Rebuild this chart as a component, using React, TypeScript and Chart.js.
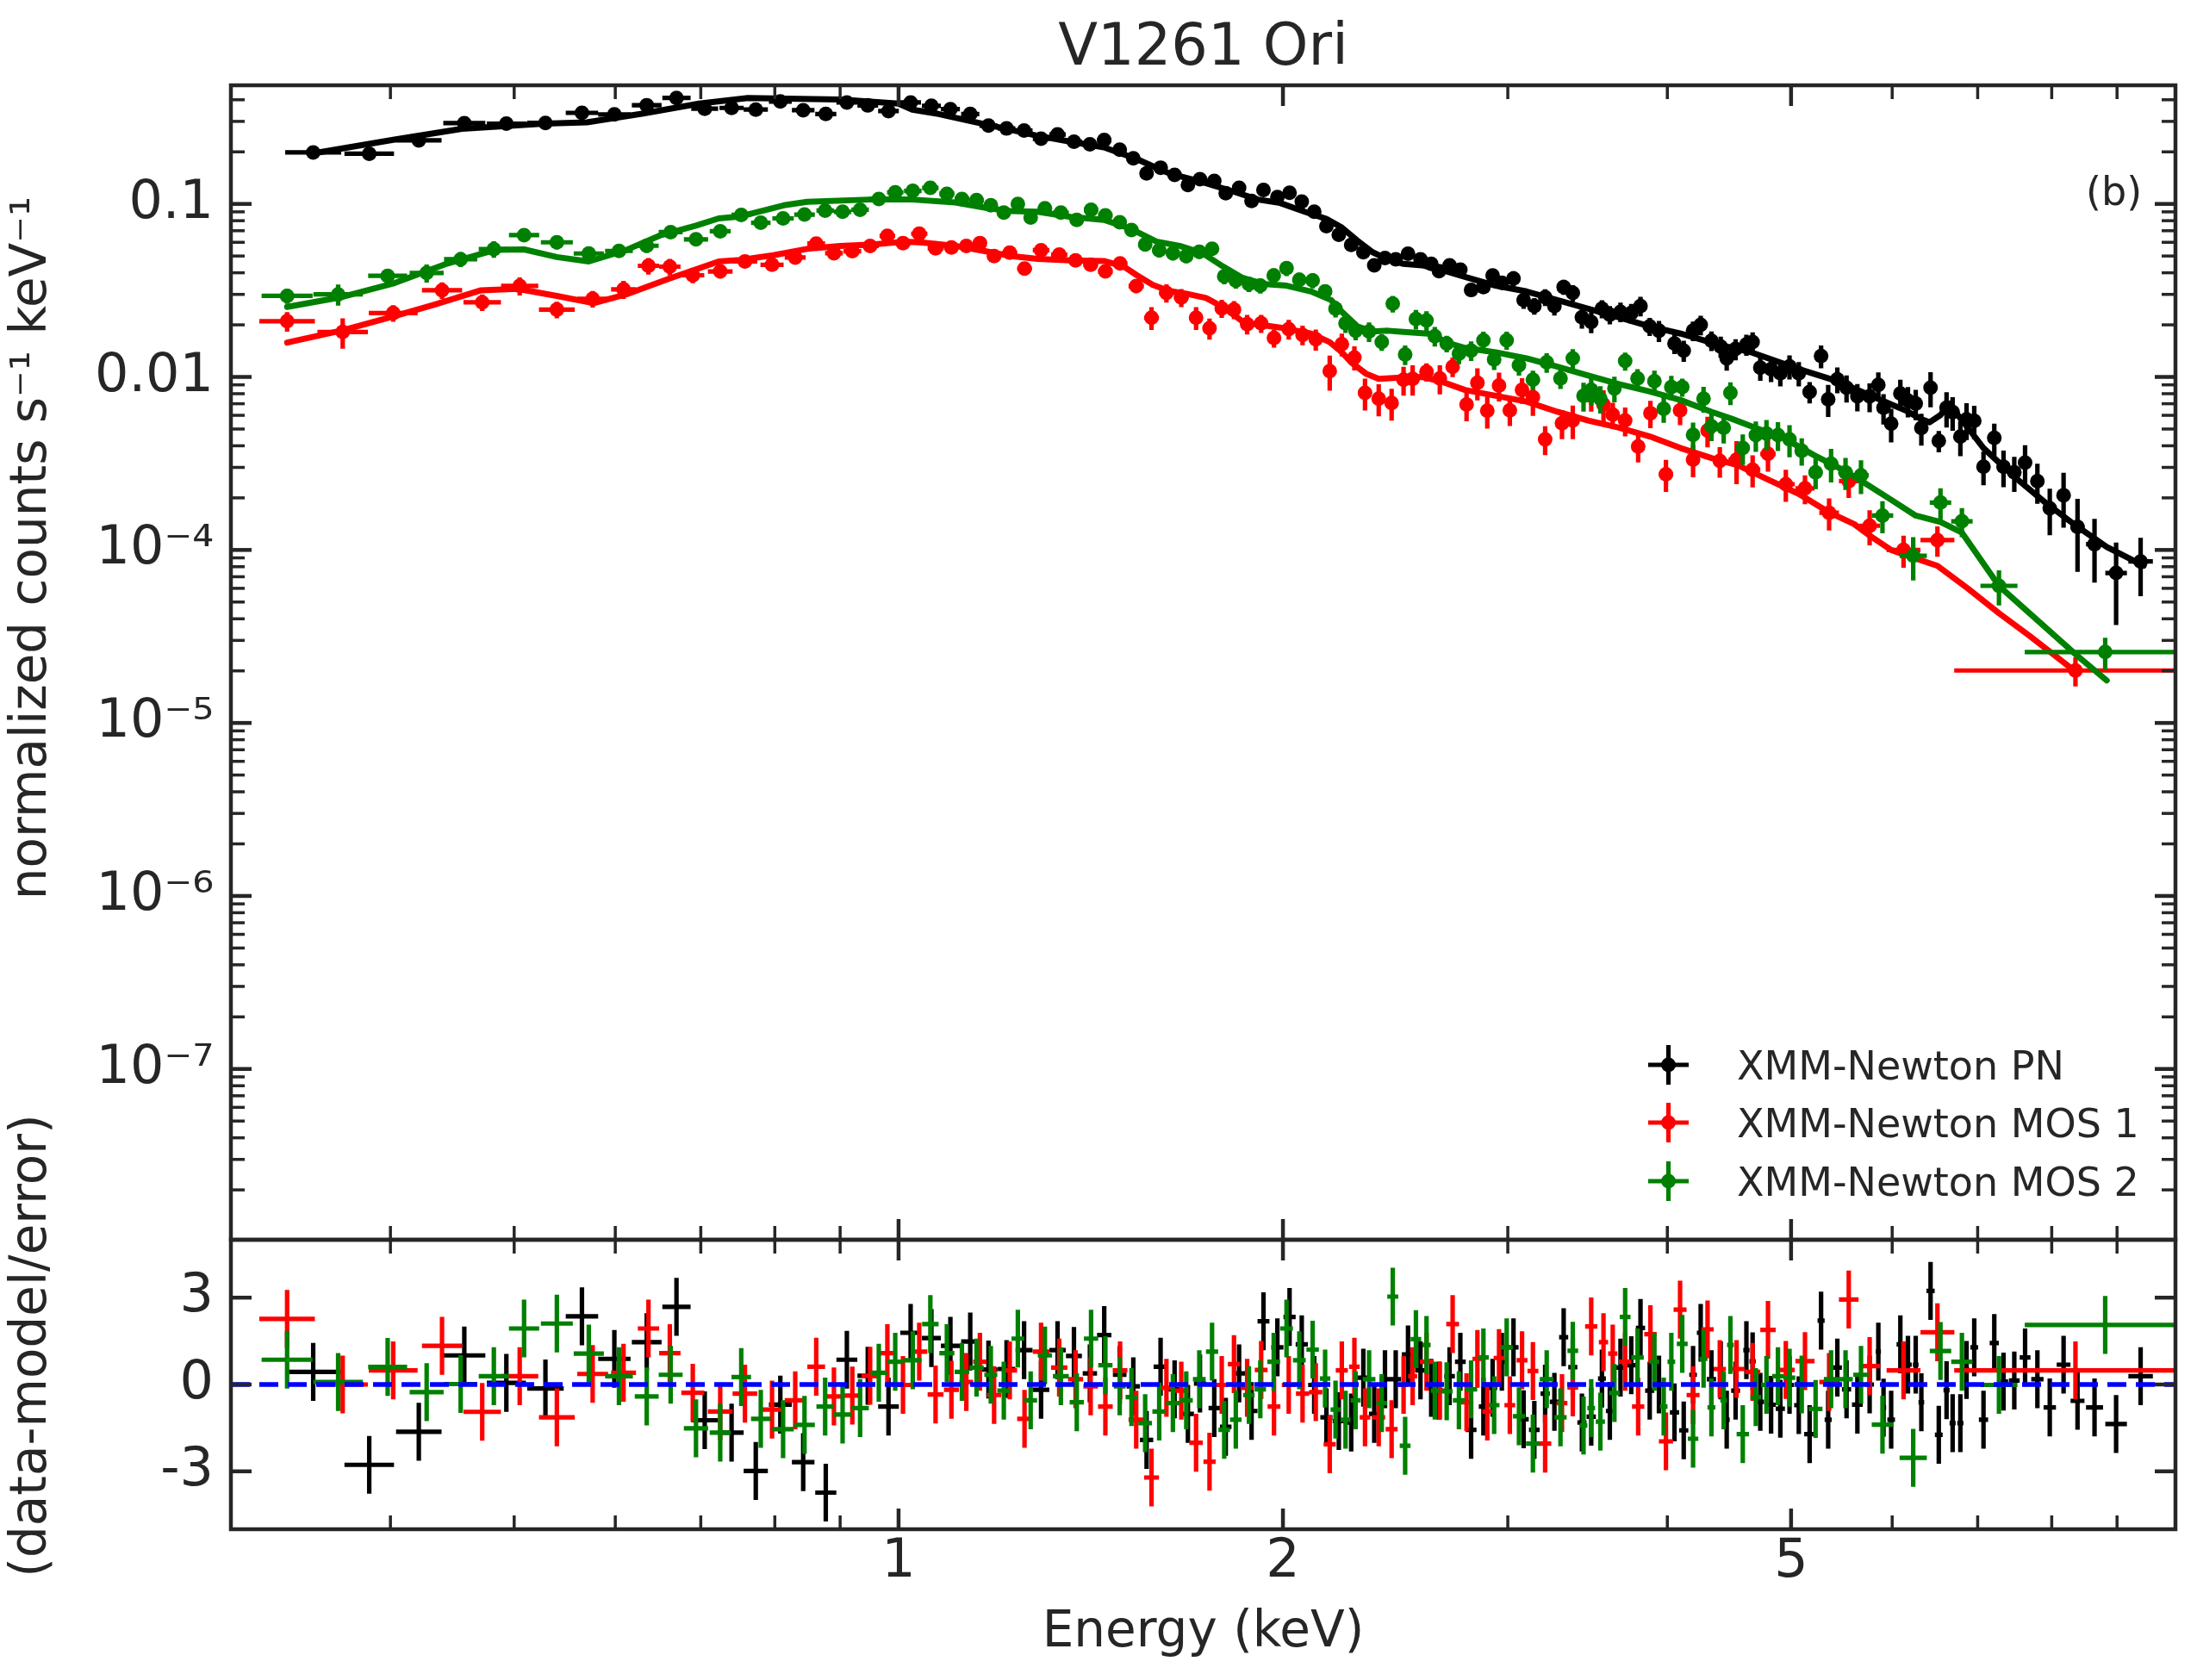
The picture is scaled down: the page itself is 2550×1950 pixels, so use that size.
import React, { useEffect, useRef } from "react";
import { Chart, registerables } from "chart.js";
Chart.register(...registerables);

const W = 2550;
const H = 1950;
const FAM = "'DejaVu Sans', sans-serif";
const TXT = "#262626";
const C_PN = "#000000";
const C_M1 = "#ff0000";
const C_M2 = "#008000";

// ---------------- data (energies in keV) ----------------
const pnE = [0.348,0.385,0.421,0.457,0.493,0.529,0.565,0.599,0.635,0.670,0.705,0.740,
0.773,0.808,0.842,0.877,0.911,0.946,0.982,1.022,1.061,1.098,1.138,1.176,1.215,1.254,1.293,1.332,1.372,1.412,1.449,1.490,1.527,1.564,1.604,1.645,1.685,1.722,1.767,1.804,1.848,1.890,
1.931,1.980,2.024,2.069,2.116,2.163,2.212,2.262,2.312,2.358,2.404,2.451,2.506,2.563,2.613,2.650,2.701,2.754,2.808,2.871,2.919,2.968,3.031,3.087,3.147,3.209,3.263,3.318,3.373,3.429,3.487,3.555,3.606,3.676,3.748,3.811,3.875,3.940,4.052,4.120,4.190,4.248,4.331,4.404,4.452,
4.524,4.613,4.665,4.730,4.823,4.904,4.986,5.070,5.170,5.278,5.346,5.435,5.526,5.635,5.761,5.852,5.907,5.989,6.089,6.173,6.260,6.324,6.430,6.526,6.618,6.691,6.785,6.861,6.957,7.074,7.213,7.334,7.478,7.625,7.796,7.972,8.173,8.381,8.642,8.985,9.391];
const pnV = [0.1985,0.195,0.233,0.293,0.291,0.294,0.336,0.329,0.372,0.410,0.355,0.359,
0.351,0.391,0.348,0.331,0.386,0.371,0.344,0.386,0.369,0.353,0.331,0.2835,0.273,0.2655,0.238,0.252,0.229,0.221,0.234,0.206,0.1834,0.150,0.162,0.147,0.1285,0.139,0.136,0.1154,0.1238,0.104,
0.1205,0.1095,0.116,0.1032,0.0902,0.0744,0.0663,0.0579,0.0526,0.0442,0.0487,0.0478,0.0516,0.0478,0.0450,0.0409,0.0442,0.0417,0.0318,0.0331,0.0386,0.0350,0.0371,0.0278,0.0257,0.0289,0.0257,0.0331,0.0306,0.0221,0.0208,0.0248,0.0229,0.0238,0.0234,0.0257,0.0196,0.0185,0.0156,0.0142,0.0185,0.0200,0.0162,0.0150,0.0128,
0.0145,0.0154,0.0159,0.0113,0.0111,0.0105,0.0115,0.0105,0.00818,0.0132,0.00743,0.0097,0.00866,0.00772,0.00772,0.00899,0.00663,0.00537,0.00802,0.00729,0.00702,0.00507,0.00866,0.00427,0.00663,0.00626,0.00452,0.00568,0.00558,0.00303,0.00444,0.00303,0.00281,0.00320,0.00250,0.00174,0.00207,0.00136,0.00108,0.000736,0.000858];
const pnErr = [0.03,0.035,0.03,0.03,0.03,0.03,0.03,0.03,0.03,0.03,0.03,0.03,
0.03,0.03,0.03,0.03,0.03,0.03,0.03,0.03,0.03,0.03,0.03,0.03,0.03,0.03,0.03,0.03,0.03,0.03,0.03,0.03,0.04,0.04,0.04,0.04,0.04,0.04,0.04,0.04,0.04,0.04,
0.06,0.06,0.06,0.06,0.06,0.06,0.06,0.06,0.06,0.06,0.06,0.06,0.08,0.08,0.08,0.08,0.08,0.08,0.08,0.08,0.08,0.08,0.1,0.11,0.11,0.11,0.12,0.1,0.11,0.14,0.14,0.12,0.12,0.13,0.13,0.13,0.12,0.14,0.13,0.14,0.13,0.13,0.13,0.14,0.15,
0.14,0.14,0.14,0.16,0.16,0.16,0.16,0.16,0.14,0.15,0.21,0.17,0.18,0.18,0.19,0.18,0.2,0.22,0.2,0.2,0.2,0.21,0.23,0.14,0.23,0.22,0.23,0.24,0.22,0.22,0.21,0.24,0.23,0.26,0.26,0.3,0.35,0.45,0.4,0.5,0.37];
const pnRes = [0.435,-2.775,-1.635,1.005,0.055,-0.135,2.355,0.885,1.465,2.685,-1.235,-1.665,
-2.985,-0.695,-2.685,-3.735,0.855,0.3,-0.765,1.785,1.605,1.335,1.485,0.515,0.535,1.185,-0.185,1.185,0.985,0.385,1.705,0.335,-0.065,-1.915,0.615,-0.165,-1.015,0.035,-0.815,-1.465,0.385,-0.915,
2.185,1.285,2.335,1.385,-0.015,-1.135,-1.265,-1.315,0.235,-1.015,0.185,0.185,1.035,0.485,-0.115,-0.215,0.285,0.785,-1.565,-0.765,-0.115,0.785,1.285,-1.2,-1.565,-0.315,-0.6,1.635,0.6,-1.315,-1.115,0.205,-0.915,0.585,0.665,1.955,-0.215,0.0,-0.965,-1.585,0.335,1.785,0.185,0.485,-1.215,
-0.215,1.185,0.8,-0.6,-0.7,-0.835,-0.015,-0.715,-1.715,2.205,-1.215,0.585,-0.165,-0.695,0.0,1.135,-0.8,-1.215,1.385,0.685,0.685,-0.615,3.235,-1.735,-0.2,-1.335,-1.335,0.5,1.285,-1.215,1.435,0.1,0.135,0.935,0.185,-0.795,0.685,-0.565,-0.795,-1.365,0.285];

const mos1E = [0.332,0.367,0.402,0.439,0.472,0.505,0.540,0.576,0.609,0.637,0.662,0.690,0.725,0.758,
0.796,0.830,0.862,0.890,0.920,0.950,0.980,1.008,1.038,1.069,1.100,1.130,1.158,1.188,1.222,1.255,1.293,1.336,1.376,1.414,1.452,1.491,1.535,1.578,1.621,1.665,1.710,1.752,1.791,1.831,1.875,
1.923,1.968,2.021,2.072,2.122,2.176,2.224,2.275,2.319,2.377,2.433,2.486,2.527,2.591,2.654,2.716,2.785,2.840,2.891,2.953,3.011,3.078,3.139,3.209,3.308,3.373,3.487,3.565,3.625,3.707,3.795,3.880,3.990,4.093,4.190,4.301,4.397,
4.532,4.665,4.796,4.953,5.127,5.355,5.548,5.761,6.124,6.51,8.35];
const mos1V = [0.0210,0.0182,0.0234,0.0317,0.0270,0.0336,0.0245,0.0283,0.0321,0.0439,0.0434,0.0387,0.0407,0.0465,
0.0445,0.0490,0.0590,0.0519,0.0533,0.0572,0.0654,0.0594,0.0673,0.0554,0.0560,0.0572,0.0594,0.0499,0.0523,0.0423,0.0540,0.0509,0.0472,0.0445,0.0407,0.0453,0.0335,0.0220,0.0306,0.0288,0.0220,0.0191,0.0249,0.0245,0.0202,
0.0204,0.0168,0.0189,0.0175,0.0165,0.0108,0.01547,0.01296,0.00809,0.00749,0.00707,0.00963,0.00974,0.0107,0.0098,0.01145,0.00693,0.00926,0.00637,0.00891,0.00642,0.00841,0.00764,0.00436,0.0054,0.0056,0.00778,0.00693,0.00606,0.0056,0.00396,0.00617,0.00274,0.00642,0.00333,0.0049,0.00327,
0.00333,0.00291,0.00359,0.0024,0.00227,0.00164,0.0025,0.00138,0.0010,0.00114,0.000201];
const mos1Err = [0.13,0.2,0.11,0.11,0.11,0.12,0.11,0.11,0.12,0.11,0.11,0.1,0.09,0.08,
0.07,0.07,0.07,0.07,0.07,0.07,0.07,0.07,0.07,0.07,0.07,0.07,0.07,0.07,0.07,0.09,0.07,0.07,0.08,0.08,0.08,0.08,0.09,0.15,0.12,0.12,0.15,0.14,0.12,0.12,0.13,
0.12,0.12,0.13,0.13,0.14,0.23,0.15,0.16,0.21,0.21,0.21,0.19,0.2,0.12,0.19,0.13,0.2,0.21,0.21,0.19,0.19,0.17,0.22,0.19,0.19,0.22,0.19,0.21,0.17,0.19,0.19,0.18,0.21,0.18,0.21,0.2,0.2,
0.28,0.21,0.21,0.21,0.19,0.21,0.2,0.23,0.21,0.2,0.19];
const mos1Res = [2.265,0.0,0.485,1.335,-0.945,0.285,-1.135,0.365,0.405,1.935,1.085,-0.285,-0.935,-0.315,
-0.865,-0.545,0.615,-0.415,-0.385,0.3,1.085,-0.015,1.135,-0.345,-0.185,0.085,0.785,-0.365,0.485,-1.185,1.135,0.585,0.185,-0.065,-0.765,0.485,-1.215,-3.215,-0.115,-0.215,-2.015,-2.665,-0.015,0.705,-0.115,
0.505,-0.765,-0.015,-0.315,-0.265,-2.065,0.485,0.615,-1.135,-1.135,-1.545,-0.015,0.285,0.785,-0.215,2.085,-0.615,0.885,-0.935,0.915,-0.715,0.835,0.465,-2.045,-0.645,-0.1,2.005,1.465,1.065,0.785,-0.765,1.735,-1.965,2.585,-0.365,1.905,0.535,
0.535,0.435,1.885,0.505,0.805,0.085,2.935,0.635,0.485,1.805,0.485];
const mos1LastBin = [6.71, 9.98];

const mos2E = [0.332,0.364,0.398,0.427,0.454,0.482,0.509,0.540,0.572,0.604,0.635,0.663,0.694,0.725,0.753,
0.780,0.812,0.844,0.876,0.904,0.933,0.965,0.994,1.026,1.059,1.091,1.121,1.151,1.181,1.209,1.240,1.269,1.302,1.340,1.379,1.415,1.452,1.490,1.522,1.560,1.600,1.640,1.680,1.720,1.760,1.799,1.837,1.881,
1.920,1.967,2.013,2.060,2.110,2.158,2.199,2.239,2.280,2.336,2.390,2.438,2.493,2.542,2.591,2.630,2.687,2.747,2.808,2.871,2.927,2.994,3.061,3.139,3.218,3.299,3.373,3.439,3.487,3.545,3.636,3.707,3.791,3.908,3.974,4.029,4.109,4.190,4.270,4.331,4.428,4.482,
4.583,4.692,4.783,4.883,4.986,5.097,5.226,5.374,5.516,5.672,5.896,6.232,6.546,6.804,7.274,8.81];
const mos2V = [0.0294,0.0300,0.0384,0.0399,0.0479,0.0548,0.0660,0.0600,0.0517,0.0535,0.0573,0.0687,0.0624,0.0695,0.0864,
0.0778,0.0825,0.0868,0.0915,0.0901,0.0926,0.1069,0.1167,0.1190,0.1238,0.1145,0.1069,0.1052,0.0982,0.0891,0.1000,0.0835,0.0944,0.0891,0.0809,0.0926,0.0858,0.0784,0.0707,0.0583,0.0540,0.0519,0.0499,0.0529,0.0550,0.0381,0.0360,0.0344,
0.0337,0.0386,0.0425,0.0364,0.0361,0.0312,0.0248,0.0204,0.0185,0.0183,0.0159,0.0265,0.01347,0.0216,0.0212,0.0172,0.0156,0.01363,0.0142,0.0163,0.0126,0.0163,0.01168,0.00963,0.01214,0.0098,0.0128,0.00778,0.00841,0.00749,0.00858,0.01236,0.0098,0.00944,0.00654,0.00874,0.00874,0.00462,0.00749,0.00519,0.00509,0.00809,
0.00388,0.00461,0.0047,0.00461,0.00435,0.00374,0.00281,0.00315,0.00281,0.0027,0.00158,0.000926,0.00188,0.001465,0.00062,0.000257];
const mos2Err = [0.1,0.14,0.09,0.12,0.1,0.11,0.07,0.09,0.08,0.08,0.09,0.08,0.09,0.08,0.07,
0.07,0.07,0.07,0.07,0.07,0.07,0.07,0.07,0.07,0.07,0.07,0.07,0.07,0.07,0.07,0.07,0.07,0.07,0.07,0.07,0.07,0.07,0.07,0.08,0.09,0.09,0.09,0.09,0.09,0.09,0.1,0.1,0.1,
0.1,0.1,0.1,0.1,0.1,0.1,0.11,0.12,0.12,0.13,0.11,0.11,0.13,0.13,0.13,0.13,0.11,0.13,0.13,0.12,0.13,0.12,0.13,0.13,0.13,0.13,0.13,0.19,0.18,0.18,0.17,0.12,0.13,0.15,0.17,0.16,0.12,0.18,0.17,0.18,0.19,0.15,
0.2,0.2,0.2,0.19,0.21,0.18,0.2,0.22,0.21,0.22,0.21,0.28,0.21,0.19,0.23,0.21];
const mos2Res = [0.855,0.085,0.605,-0.265,0.015,0.285,1.935,2.105,1.065,0.285,-0.415,0.335,-1.515,-1.665,0.255,
-1.185,-1.545,-1.395,-0.765,-1.035,-0.815,0.405,0.785,0.835,2.085,1.085,0.435,0.585,0.335,-0.215,1.585,-0.545,1.005,0.285,-0.615,1.585,0.665,-0.065,-0.435,-1.335,-0.935,-0.645,-0.545,0.185,1.135,-1.565,-1.215,-0.365,
-0.165,0.785,1.935,0.835,1.205,0.205,-0.865,-1.215,-0.545,0.185,-0.645,3.035,-2.115,1.565,1.365,-0.215,-0.235,-0.545,-0.165,0.935,-0.715,1.285,-1.095,-2.045,0.185,-1.135,1.165,-1.415,-0.815,-1.285,-0.295,2.335,0.935,0.785,-0.765,0.785,1.405,-1.875,0.885,-0.795,-0.545,1.365,
-1.715,-0.435,-0.015,0.285,0.235,0.0,-0.845,0.185,0.185,0.335,-1.385,-2.535,1.155,0.785,-0.015,2.055];
const mos2LastBin = [7.62, 9.98];

// ---------------- model curves ----------------
const pnModelE = [0.348,0.403,0.455,0.528,0.570,0.631,0.698,0.762,0.900,1.000,1.025,1.075,1.141,1.211,1.285,1.364,1.448,1.536,1.582,1.630,1.730,1.837,1.912,1.990,2.080,2.163,2.224,2.287,2.351,2.417,2.486,2.570,2.657,2.777,2.935,3.103,3.281,3.468,3.666,3.875,4.097,4.331,4.498,4.665,5.070,5.420,5.825,6.156,6.330,6.419,6.546,6.658,6.767,6.920,7.074,7.478,7.907,8.358,8.835,9.443];
const pnModelV = [0.196,0.2355,0.2716,0.291,0.296,0.333,0.380,0.410,0.401,0.380,0.351,0.331,0.300,0.273,0.2477,0.229,0.2125,0.182,0.165,0.150,0.1337,0.1167,0.106,0.1013,0.0902,0.0819,0.0730,0.0614,0.0526,0.0478,0.045,0.0442,0.0417,0.0379,0.0337,0.0312,0.0278,0.0248,0.0221,0.0196,0.0178,0.0158,0.0147,0.0138,0.0111,0.00952,0.00757,0.00637,0.00568,0.00547,0.00602,0.00702,0.00591,0.00479,0.00388,0.00265,0.00188,0.00138,0.00104,0.00081];
const mos1ModelE = [0.332,0.367,0.403,0.433,0.471,0.503,0.540,0.577,0.612,0.661,0.723,0.752,0.798,0.848,0.900,0.955,1.013,1.044,1.108,1.176,1.226,1.285,1.364,1.448,1.500,1.536,1.582,1.630,1.680,1.741,1.794,1.859,1.883,1.990,2.104,2.176,2.224,2.262,2.325,2.377,2.458,2.570,2.657,2.777,2.935,3.103,3.281,3.468,3.666,3.875,4.097,4.331,4.54,4.796,5.070,5.362,5.603,5.761,5.989,6.260,6.51,6.880,7.274,7.690,8.358];
const mos1ModelV = [0.0158,0.0186,0.0225,0.0262,0.0317,0.0323,0.0294,0.0267,0.0300,0.0370,0.0465,0.0475,0.0505,0.0550,0.0572,0.0583,0.0606,0.0599,0.0572,0.0529,0.0499,0.0481,0.0472,0.0468,0.0436,0.0388,0.0340,0.0314,0.0303,0.0286,0.0254,0.0210,0.0204,0.0193,0.0178,0.0159,0.01388,0.01214,0.0104,0.00974,0.00989,0.0100,0.00944,0.00841,0.00778,0.0072,0.00629,0.0056,0.00509,0.00453,0.00388,0.0034,0.00309,0.00255,0.00211,0.00164,0.00141,0.00121,0.0010,0.000892,0.00081,0.000597,0.000431,0.000318,0.000197];
const mos2ModelE = [0.332,0.365,0.403,0.441,0.483,0.509,0.540,0.572,0.612,0.650,0.694,0.723,0.752,0.813,0.848,0.949,1.025,1.108,1.176,1.226,1.285,1.364,1.448,1.518,1.592,1.660,1.730,1.794,1.859,1.883,1.936,2.013,2.104,2.182,2.224,2.287,2.351,2.417,2.486,2.598,2.701,2.777,2.935,3.103,3.281,3.468,3.666,3.875,4.097,4.331,4.498,4.692,4.932,5.212,5.510,5.729,5.989,6.260,6.546,6.804,7.274,8.358,8.835];
const mos2ModelV = [0.0254,0.0288,0.0349,0.0447,0.0542,0.0546,0.0493,0.0465,0.0542,0.0656,0.0749,0.0825,0.0847,0.0982,0.1028,0.1060,0.1060,0.1020,0.0944,0.0908,0.0901,0.0841,0.0809,0.0721,0.0606,0.0572,0.0519,0.0436,0.0374,0.0364,0.0344,0.0337,0.0312,0.0278,0.0238,0.0196,0.0183,0.0185,0.0182,0.0178,0.0156,0.01472,0.01388,0.0128,0.01145,0.0102,0.00908,0.00825,0.00735,0.00629,0.00571,0.00507,0.00444,0.00353,0.00286,0.0024,0.00195,0.00158,0.00145,0.00126,0.00062,0.000248,0.000176];

// ---------------- axes / text ----------------
const X_MIN = 0.3;
const X_MAX = 10;
const Y_MIN = 1.03e-7;
const Y_MAX = 0.485;
const R_MIN = -5;
const R_MAX = 5;
const xMajorTicks = [1, 2, 5];
const xMinorTicks = [0.4, 0.5, 0.6, 0.7, 0.8, 0.9, 3, 4, 6, 7, 8, 9];
const yTickValues = [0.1, 0.01, 1e-3, 1e-4, 1e-5, 1e-6];
const yTickLabels = ["0.1", "0.01", "10\u207B\u2074", "10\u207B\u2075", "10\u207B\u2076", "10\u207B\u2077"];
const resTickValues = [-3, 0, 3];
const seriesNames = ["XMM-Newton PN", "XMM-Newton MOS 1", "XMM-Newton MOS 2"];
const seriesColors = [C_PN, C_M1, C_M2];
const titleText = "V1261 Ori";
const panelTag = "(b)";
const yLabelTop = "normalized counts s\u207B\u00B9 keV\u207B\u00B9";
const yLabelBottom = "(data-model/error)";
const xLabelText = "Energy (keV)";

// ---------------- layout (pixels) ----------------
const AREA_LEFT = 268;
const AREA_RIGHT = 2525;
const TOP_TOP = 99;
const SPLIT = 1439;
const BOT_BOTTOM = 1775;
const MAJ = 24, MIN = 16, MAJW = 4.5, MINW = 3.5, SPINE = 4.5;
const EBW = 5.2;

function binEdges(E, last) {
  const L = E.map((e) => Math.log10(e));
  return E.map((e, i) => {
    if (last && i === E.length - 1) return last;
    const gl = i > 0 ? L[i] - L[i - 1] : Infinity;
    const gr = i < E.length - 1 ? L[i + 1] - L[i] : Infinity;
    const h = Math.min(gl, gr) / 2;
    return [Math.pow(10, L[i] - h), Math.pow(10, L[i] + h)];
  });
}
function dataBars(E, V, F, last) {
  const b = binEdges(E, last);
  return { x: E, y: V, xlo: b.map((q) => q[0]), xhi: b.map((q) => q[1]),
    ylo: V.map((v, i) => v * (1 - F[i])), yhi: V.map((v, i) => v * (1 + F[i])) };
}
function resBars(E, R, last) {
  const b = binEdges(E, last);
  return { x: E, y: R, xlo: b.map((q) => q[0]), xhi: b.map((q) => q[1]),
    ylo: R.map((r) => r - 1), yhi: R.map((r) => r + 1) };
}
const pts = (E, V) => E.map((e, i) => ({ x: e, y: V[i] }));

const errPlugin = {
  id: "errbars",
  beforeDatasetDraw(chart, args) {
    const ds = chart.data.datasets[args.index];
    const eb = ds.eb;
    if (!eb) return;
    const ctx = chart.ctx;
    const a = chart.chartArea;
    const xs = chart.scales.x, ys = chart.scales.y;
    ctx.save();
    ctx.beginPath();
    ctx.rect(a.left, a.top, a.right - a.left, a.bottom - a.top);
    ctx.clip();
    ctx.strokeStyle = ds.ebColor;
    ctx.lineWidth = EBW;
    ctx.lineCap = "butt";
    ctx.beginPath();
    for (let i = 0; i < eb.x.length; i++) {
      if (eb.y[i] === undefined) continue;
      const px = xs.getPixelForValue(eb.x[i]);
      const py = ys.getPixelForValue(eb.y[i]);
      ctx.moveTo(xs.getPixelForValue(eb.xlo[i]), py);
      ctx.lineTo(xs.getPixelForValue(eb.xhi[i]), py);
      ctx.moveTo(px, ys.getPixelForValue(eb.ylo[i]));
      ctx.lineTo(px, ys.getPixelForValue(eb.yhi[i]));
    }
    ctx.stroke();
    ctx.restore();
  },
};

function tickLine(ctx, x1, y1, x2, y2, w) {
  ctx.lineWidth = w;
  ctx.beginPath();
  ctx.moveTo(x1, y1);
  ctx.lineTo(x2, y2);
  ctx.stroke();
}
function drawXTicks(ctx, xs, a) {
  for (const v of xMajorTicks) {
    const p = xs.getPixelForValue(v);
    tickLine(ctx, p, a.top, p, a.top + MAJ, MAJW);
    tickLine(ctx, p, a.bottom, p, a.bottom - MAJ, MAJW);
  }
  for (const v of xMinorTicks) {
    const p = xs.getPixelForValue(v);
    tickLine(ctx, p, a.top, p, a.top + MIN, MINW);
    tickLine(ctx, p, a.bottom, p, a.bottom - MIN, MINW);
  }
}
function drawYTick(ctx, py, a, len, w) {
  tickLine(ctx, a.left, py, a.left + len, py, w);
  tickLine(ctx, a.right, py, a.right - len, py, w);
}
function rotatedText(ctx, text, x, y, size) {
  ctx.save();
  ctx.translate(x, y);
  ctx.rotate(-Math.PI / 2);
  ctx.font = `${size}px ${FAM}`;
  ctx.fillStyle = TXT;
  ctx.textAlign = "center";
  ctx.textBaseline = "alphabetic";
  ctx.fillText(text, 0, 0);
  ctx.restore();
}

const upperDecor = {
  id: "upperDecor",
  afterDraw(chart) {
    const ctx = chart.ctx;
    const a = chart.chartArea;
    const xs = chart.scales.x, ys = chart.scales.y;
    ctx.save();
    ctx.strokeStyle = TXT;
    ctx.lineCap = "butt";
    drawXTicks(ctx, xs, a);
    for (const v of yTickValues) drawYTick(ctx, ys.getPixelForValue(v), a, MAJ, MAJW);
    for (let d = -7; d <= -1; d++) {
      for (let k = 2; k <= 9; k++) {
        const v = k * Math.pow(10, d);
        if (v < Y_MIN || v > Y_MAX) continue;
        drawYTick(ctx, ys.getPixelForValue(v), a, MIN, MINW);
      }
    }
    ctx.lineWidth = SPINE;
    ctx.strokeRect(a.left, a.top, a.right - a.left, a.bottom - a.top);

    // title
    ctx.fillStyle = TXT;
    ctx.font = `67px ${FAM}`;
    ctx.textAlign = "center";
    ctx.textBaseline = "alphabetic";
    ctx.fillText(titleText, (a.left + a.right) / 2, 75);
    // panel tag
    ctx.font = `46px ${FAM}`;
    ctx.textAlign = "left";
    ctx.fillText(panelTag, 2421, 238);
    // legend
    const rowsY = [1236, 1303, 1371];
    for (let i = 0; i < 3; i++) {
      const cx = 1936.5, cy = rowsY[i];
      ctx.strokeStyle = seriesColors[i];
      ctx.fillStyle = seriesColors[i];
      ctx.lineWidth = EBW;
      ctx.beginPath();
      ctx.moveTo(cx - 23.5, cy); ctx.lineTo(cx + 23.5, cy);
      ctx.moveTo(cx, cy - 23); ctx.lineTo(cx, cy + 23);
      ctx.stroke();
      ctx.beginPath();
      ctx.arc(cx, cy, 8.5, 0, Math.PI * 2);
      ctx.fill();
      ctx.fillStyle = TXT;
      ctx.font = `46px ${FAM}`;
      ctx.textAlign = "left";
      ctx.textBaseline = "alphabetic";
      ctx.fillText(seriesNames[i], 2016, cy + 17);
    }
    rotatedText(ctx, yLabelTop, 53, 636, 58);
    ctx.restore();
  },
};

const lowerDecor = {
  id: "lowerDecor",
  afterDraw(chart) {
    const ctx = chart.ctx;
    const a = chart.chartArea;
    const xs = chart.scales.x, ys = chart.scales.y;
    ctx.save();
    ctx.strokeStyle = TXT;
    ctx.lineCap = "butt";
    drawXTicks(ctx, xs, a);
    for (const v of resTickValues) drawYTick(ctx, ys.getPixelForValue(v), a, MAJ, MAJW);
    ctx.lineWidth = SPINE;
    ctx.strokeRect(a.left, a.top, a.right - a.left, a.bottom - a.top);
    ctx.fillStyle = TXT;
    ctx.font = `58px ${FAM}`;
    ctx.textAlign = "center";
    ctx.textBaseline = "alphabetic";
    ctx.fillText(xLabelText, (a.left + a.right) / 2, 1911);
    rotatedText(ctx, yLabelBottom, 53, 1562, 58);
    ctx.restore();
  },
};

const tickFont = { family: FAM, size: 62 };

function upperConfig() {
  const dataDs = (E, V, F, color, order, last) => ({
    data: pts(E, V), showLine: false, pointRadius: 8.5, pointHoverRadius: 8.5,
    pointBackgroundColor: color, pointBorderWidth: 0, borderWidth: 0, order,
    eb: dataBars(E, V, F, last), ebColor: color,
  });
  const modelDs = (E, V, color, order) => ({
    data: pts(E, V), showLine: true, pointRadius: 0, borderColor: color,
    borderWidth: 7, fill: false, tension: 0, order, borderJoinStyle: "round", borderCapStyle: "round",
  });
  return {
    type: "scatter",
    data: {
      datasets: [
        dataDs(pnE, pnV, pnErr, C_PN, 6, null),
        modelDs(pnModelE, pnModelV, C_PN, 5),
        dataDs(mos1E, mos1V, mos1Err, C_M1, 4, mos1LastBin),
        modelDs(mos1ModelE, mos1ModelV, C_M1, 3),
        dataDs(mos2E, mos2V, mos2Err, C_M2, 2, mos2LastBin),
        modelDs(mos2ModelE, mos2ModelV, C_M2, 1),
      ],
    },
    options: {
      animation: false, responsive: false, maintainAspectRatio: false, devicePixelRatio: 1,
      events: [],
      layout: { padding: { top: TOP_TOP, right: W - AREA_RIGHT, bottom: H - SPLIT, left: 0 } },
      plugins: { legend: { display: false }, tooltip: { enabled: false }, title: { display: false } },
      scales: {
        x: { type: "logarithmic", min: X_MIN, max: X_MAX, display: false },
        y: {
          type: "logarithmic", min: Y_MIN, max: Y_MAX,
          afterFit: (s) => { s.width = AREA_LEFT; },
          afterBuildTicks: (s) => { s.ticks = yTickValues.map((v) => ({ value: v })); },
          ticks: {
            autoSkip: false, padding: 20, font: tickFont, color: TXT,
            callback: (v) => {
              const i = yTickValues.findIndex((t) => Math.abs(Math.log10(t) - Math.log10(v)) < 1e-6);
              return i >= 0 ? yTickLabels[i] : "";
            },
          },
          grid: { display: false, drawTicks: false },
          border: { display: false },
        },
      },
    },
    plugins: [errPlugin, upperDecor],
  };
}

function lowerConfig() {
  const resDs = (E, R, color, order, last) => ({
    data: pts(E, R), showLine: false, pointRadius: 0, pointHoverRadius: 0, borderWidth: 0, order,
    eb: resBars(E, R, last), ebColor: color,
  });
  return {
    type: "scatter",
    data: {
      datasets: [
        resDs(pnE, pnRes, C_PN, 3, null),
        resDs(mos1E, mos1Res, C_M1, 2, mos1LastBin),
        resDs(mos2E, mos2Res, C_M2, 1, mos2LastBin),
        {
          data: [{ x: X_MIN, y: 0 }, { x: X_MAX, y: 0 }], showLine: true, pointRadius: 0,
          borderColor: "#0000ff", borderWidth: 5.5, borderDash: [22, 11], fill: false, order: 0,
        },
      ],
    },
    options: {
      animation: false, responsive: false, maintainAspectRatio: false, devicePixelRatio: 1,
      events: [],
      layout: { padding: { top: SPLIT, right: W - AREA_RIGHT, bottom: 0, left: 0 } },
      plugins: { legend: { display: false }, tooltip: { enabled: false }, title: { display: false } },
      scales: {
        x: {
          type: "logarithmic", min: X_MIN, max: X_MAX,
          afterFit: (s) => { s.height = H - BOT_BOTTOM; },
          afterBuildTicks: (s) => { s.ticks = xMajorTicks.map((v) => ({ value: v })); },
          ticks: { autoSkip: false, maxRotation: 0, minRotation: 0, padding: 2, font: tickFont, color: TXT,
            callback: (v) => String(v) },
          grid: { display: false, drawTicks: false },
          border: { display: false },
        },
        y: {
          type: "linear", min: R_MIN, max: R_MAX,
          afterFit: (s) => { s.width = AREA_LEFT; },
          afterBuildTicks: (s) => { s.ticks = resTickValues.map((v) => ({ value: v })); },
          ticks: { autoSkip: false, padding: 20, font: tickFont, color: TXT, callback: (v) => String(v) },
          grid: { display: false, drawTicks: false },
          border: { display: false },
        },
      },
    },
    plugins: [errPlugin, lowerDecor],
  };
}

export default function App() {
  const topRef = useRef(null);
  const botRef = useRef(null);
  useEffect(() => {
    const c1 = new Chart(topRef.current, upperConfig());
    const c2 = new Chart(botRef.current, lowerConfig());
    return () => { c1.destroy(); c2.destroy(); };
  }, []);
  const cs = { position: "absolute", left: 0, top: 0, width: W + "px", height: H + "px" };
  return (
    <div style={{ position: "fixed", left: 0, top: 0, width: W, height: H, background: "#ffffff" }}>
      <canvas ref={botRef} width={W} height={H} style={cs} />
      <canvas ref={topRef} width={W} height={H} style={cs} />
    </div>
  );
}
